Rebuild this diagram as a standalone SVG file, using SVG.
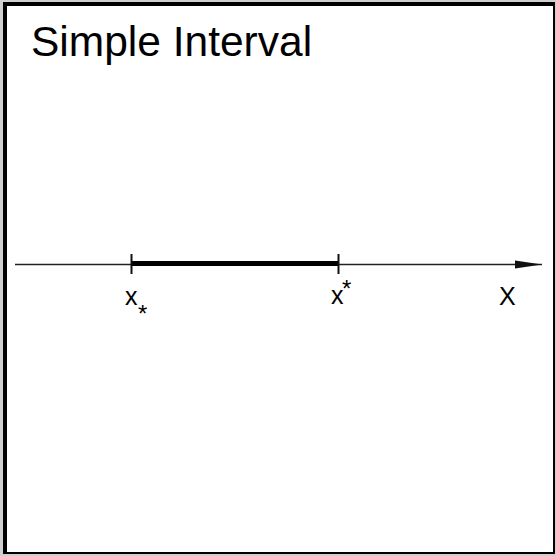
<svg xmlns="http://www.w3.org/2000/svg" width="556" height="556" viewBox="0 0 556 556">
<defs>
<style>
.t{font-family:"Liberation Sans",Arial,sans-serif;fill:#000}
.axis{stroke:#222;stroke-width:1.6;fill:none}
.tick{stroke:#111;stroke-width:2;fill:none}
</style>
<marker id="ah" markerUnits="userSpaceOnUse" markerWidth="28" markerHeight="10" refX="27" refY="5" orient="auto">
<path d="M0,1 L27,5 L0,9 Z" fill="#111"/>
</marker>
</defs>
<g id="frame">
<rect x="0" y="0" width="556" height="556" fill="#cfcfcf"/>
<rect x="3" y="2" width="552" height="552" fill="#000"/>
<rect x="7" y="6" width="546" height="546" fill="#fff"/>
</g>
<text id="title" class="t" x="31" y="56" font-size="42.5">Simple Interval</text>
<g id="connectors">
<line class="axis" x1="15" y1="264.5" x2="542" y2="264.5" marker-end="url(#ah)"/>
<line x1="131.5" y1="263.5" x2="338.5" y2="263.5" stroke="#000" stroke-width="5"/>
<line class="tick" x1="131.5" y1="254" x2="131.5" y2="274"/>
<line class="tick" x1="338.5" y1="254" x2="338.5" y2="274"/>
</g>
<g id="label-xlow">
<text class="t" x="125" y="305" font-size="25">x</text>
<text class="t" x="138" y="322" font-size="24">*</text>
</g>
<g id="label-xhigh">
<text class="t" x="331" y="304" font-size="25">x</text>
<text class="t" x="342" y="297" font-size="24">*</text>
</g>
<g id="label-X">
<text class="t" x="499" y="305" font-size="25">X</text>
</g>
</svg>
